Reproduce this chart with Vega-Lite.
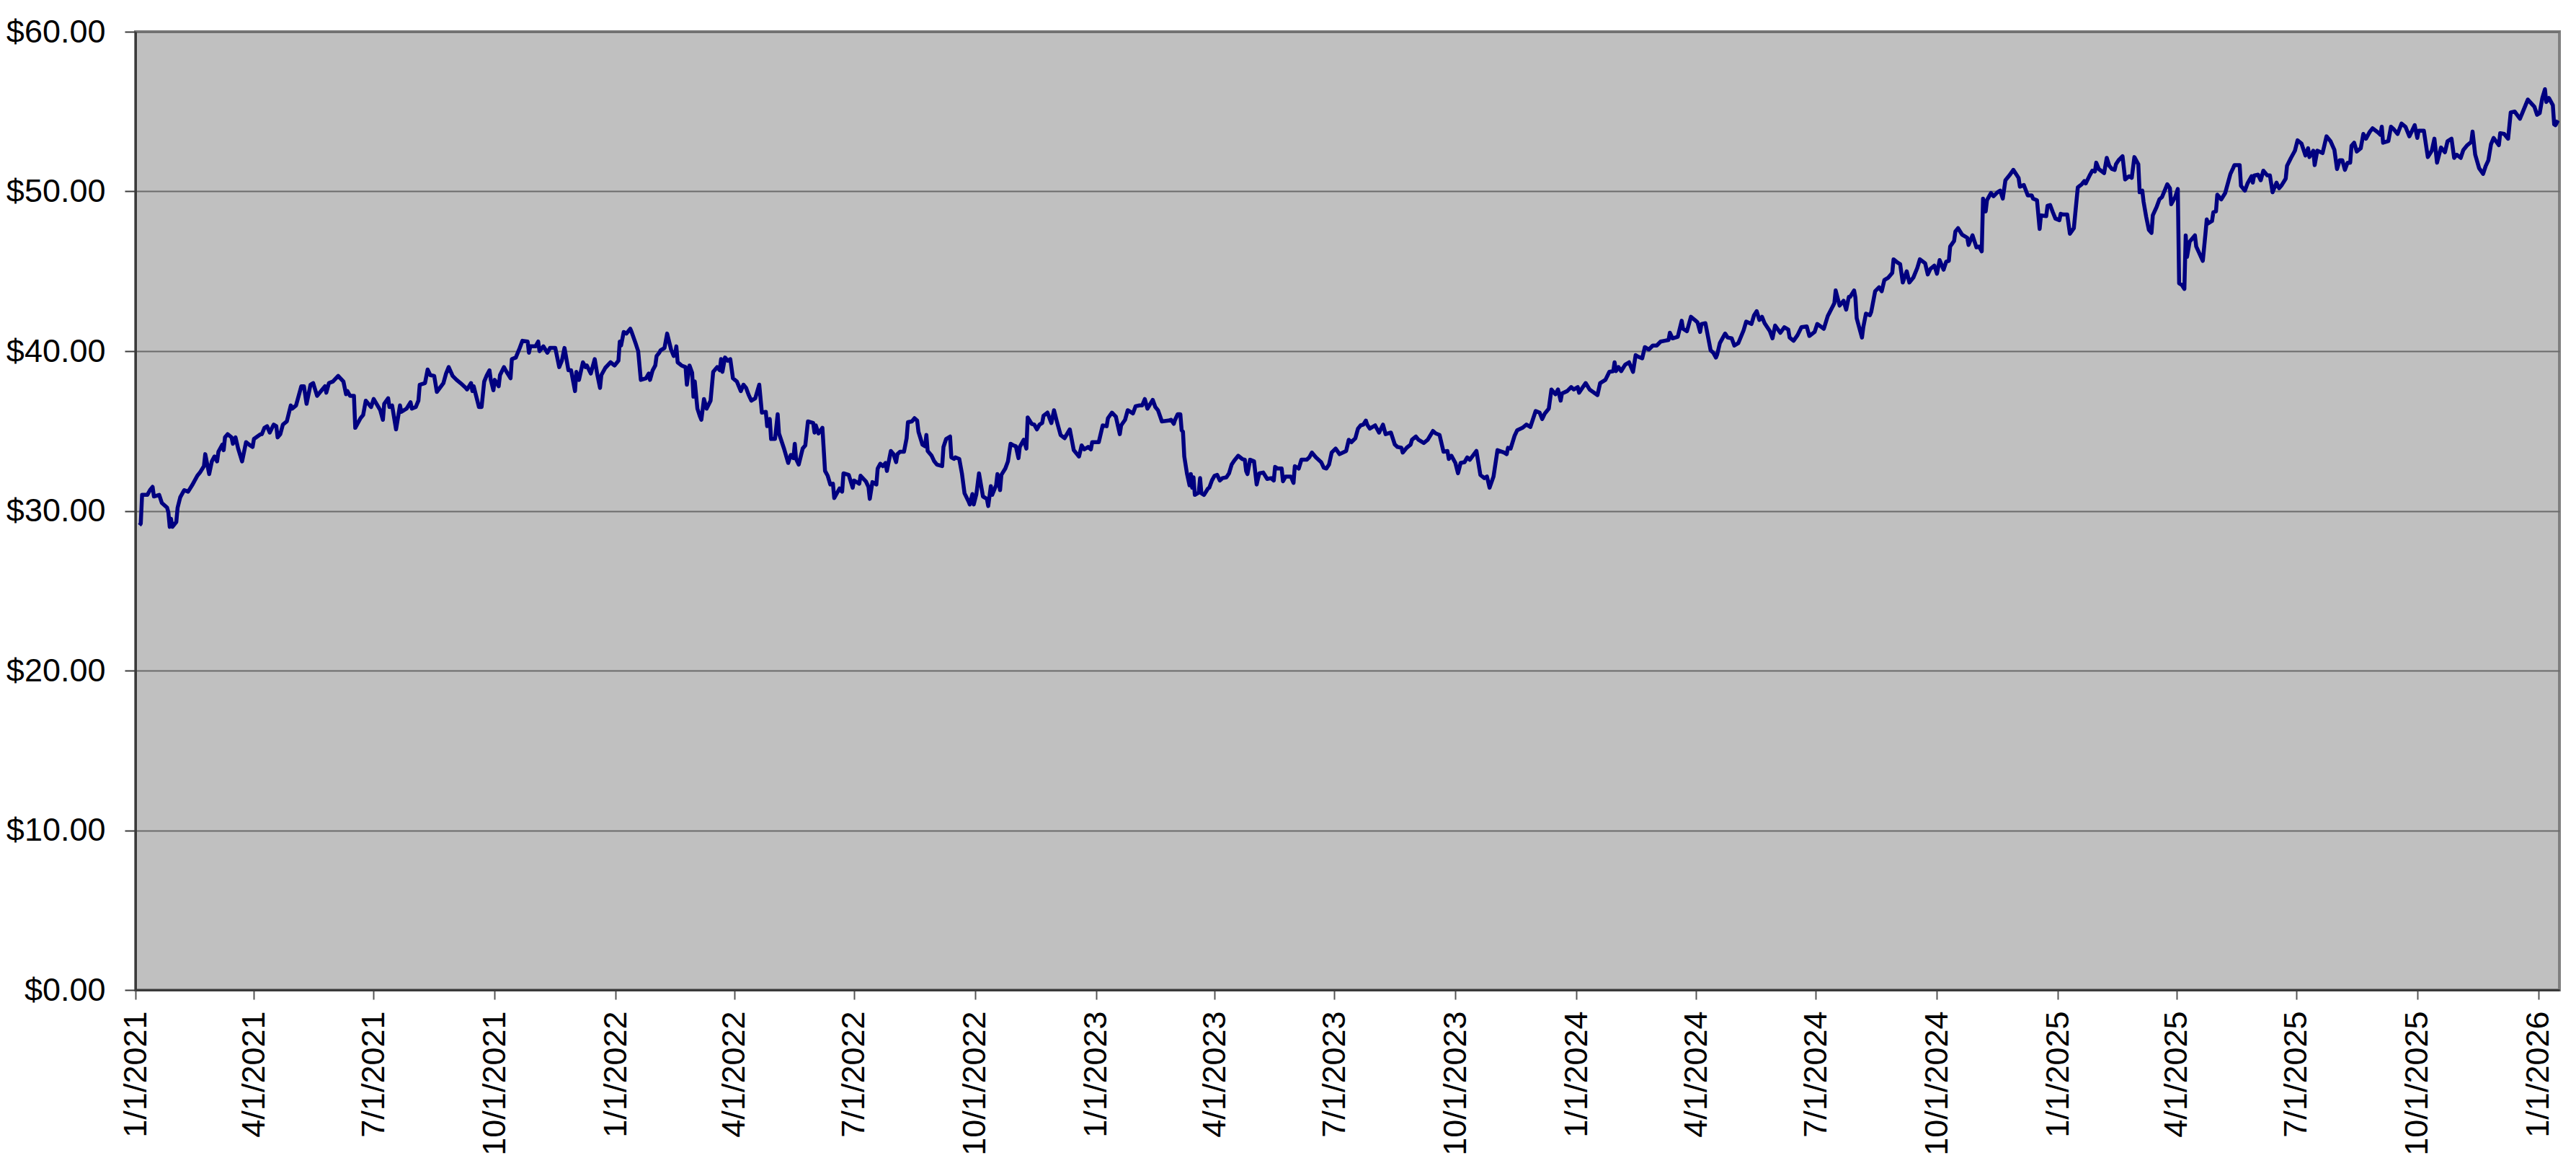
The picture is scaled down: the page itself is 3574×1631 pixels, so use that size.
{
  "$schema": "https://vega.github.io/schema/vega-lite/v6.json",
  "width": 3363,
  "height": 1329,
  "autosize": {"type": "none"},
  "padding": {"left": 188, "top": 44, "right": 23, "bottom": 258},
  "background": "#ffffff",
  "config": {
    "view": {"fill": "#C0C0C0", "stroke": "#808080", "strokeWidth": 4},
    "axis": {"labelFont": "Liberation Sans", "labelFontSize": 45, "labelColor": "#000000", "labelLimit": 0}
  },
  "data": {"values": [
    {"date":"2021-01-04","price":29.1},{"date":"2021-01-05","price":29.2},{"date":"2021-01-06","price":31.0},{"date":"2021-01-10","price":31.0},
    {"date":"2021-01-12","price":31.3},{"date":"2021-01-14","price":31.5},{"date":"2021-01-15","price":30.9},{"date":"2021-01-19","price":31.0},
    {"date":"2021-01-21","price":30.5},{"date":"2021-01-25","price":30.2},{"date":"2021-01-26","price":29.9},{"date":"2021-01-27","price":29.0},
    {"date":"2021-01-28","price":29.5},{"date":"2021-01-29","price":29.0},{"date":"2021-02-01","price":29.3},{"date":"2021-02-02","price":30.2},
    {"date":"2021-02-04","price":30.85},{"date":"2021-02-07","price":31.3},{"date":"2021-02-10","price":31.2},{"date":"2021-02-13","price":31.6},
    {"date":"2021-02-17","price":32.2},{"date":"2021-02-19","price":32.4},{"date":"2021-02-22","price":32.8},{"date":"2021-02-23","price":33.55},
    {"date":"2021-02-26","price":32.3},{"date":"2021-02-28","price":33.1},{"date":"2021-03-02","price":33.4},{"date":"2021-03-04","price":33.1},
    {"date":"2021-03-05","price":33.7},{"date":"2021-03-08","price":34.15},{"date":"2021-03-09","price":33.8},{"date":"2021-03-10","price":34.6},
    {"date":"2021-03-12","price":34.8},{"date":"2021-03-15","price":34.6},{"date":"2021-03-16","price":34.2},{"date":"2021-03-18","price":34.6},
    {"date":"2021-03-20","price":33.9},{"date":"2021-03-23","price":33.1},{"date":"2021-03-26","price":34.3},{"date":"2021-03-29","price":34.1},
    {"date":"2021-03-31","price":34.0},{"date":"2021-04-01","price":34.5},{"date":"2021-04-06","price":34.8},{"date":"2021-04-07","price":34.8},
    {"date":"2021-04-09","price":35.2},{"date":"2021-04-11","price":35.3},{"date":"2021-04-13","price":34.9},{"date":"2021-04-16","price":35.4},
    {"date":"2021-04-18","price":35.3},{"date":"2021-04-19","price":34.6},{"date":"2021-04-21","price":34.8},{"date":"2021-04-23","price":35.4},
    {"date":"2021-04-26","price":35.6},{"date":"2021-04-29","price":36.6},{"date":"2021-04-30","price":36.4},{"date":"2021-05-03","price":36.6},
    {"date":"2021-05-07","price":37.8},{"date":"2021-05-09","price":37.8},{"date":"2021-05-11","price":36.7},{"date":"2021-05-14","price":37.9},
    {"date":"2021-05-16","price":38.0},{"date":"2021-05-19","price":37.2},{"date":"2021-05-21","price":37.4},{"date":"2021-05-25","price":37.8},
    {"date":"2021-05-26","price":37.4},{"date":"2021-05-28","price":38.0},{"date":"2021-05-31","price":38.1},{"date":"2021-06-04","price":38.45},
    {"date":"2021-06-08","price":38.1},{"date":"2021-06-10","price":37.3},{"date":"2021-06-11","price":37.5},{"date":"2021-06-13","price":37.2},
    {"date":"2021-06-16","price":37.2},{"date":"2021-06-17","price":35.2},{"date":"2021-06-21","price":35.8},{"date":"2021-06-23","price":36.0},
    {"date":"2021-06-25","price":36.9},{"date":"2021-06-29","price":36.5},{"date":"2021-07-01","price":37.0},{"date":"2021-07-06","price":36.3},
    {"date":"2021-07-08","price":35.7},{"date":"2021-07-09","price":36.7},{"date":"2021-07-12","price":37.05},{"date":"2021-07-13","price":36.5},
    {"date":"2021-07-15","price":36.6},{"date":"2021-07-18","price":35.1},{"date":"2021-07-21","price":36.6},{"date":"2021-07-22","price":36.2},
    {"date":"2021-07-26","price":36.4},{"date":"2021-07-29","price":36.8},{"date":"2021-07-30","price":36.4},{"date":"2021-08-02","price":36.5},
    {"date":"2021-08-04","price":36.9},{"date":"2021-08-05","price":37.9},{"date":"2021-08-09","price":38.0},{"date":"2021-08-11","price":38.85},
    {"date":"2021-08-13","price":38.5},{"date":"2021-08-16","price":38.45},{"date":"2021-08-18","price":37.45},{"date":"2021-08-23","price":38.0},
    {"date":"2021-08-25","price":38.6},{"date":"2021-08-27","price":39.0},{"date":"2021-08-30","price":38.45},{"date":"2021-09-02","price":38.2},
    {"date":"2021-09-05","price":38.0},{"date":"2021-09-09","price":37.7},{"date":"2021-09-10","price":37.6},{"date":"2021-09-13","price":38.0},
    {"date":"2021-09-14","price":37.5},{"date":"2021-09-15","price":37.8},{"date":"2021-09-19","price":36.5},{"date":"2021-09-21","price":36.5},
    {"date":"2021-09-23","price":38.1},{"date":"2021-09-25","price":38.5},{"date":"2021-09-27","price":38.8},{"date":"2021-09-28","price":38.2},
    {"date":"2021-09-30","price":37.55},{"date":"2021-10-01","price":38.2},{"date":"2021-10-04","price":37.8},{"date":"2021-10-05","price":38.5},
    {"date":"2021-10-08","price":39.0},{"date":"2021-10-10","price":38.7},{"date":"2021-10-13","price":38.3},{"date":"2021-10-14","price":39.5},
    {"date":"2021-10-17","price":39.6},{"date":"2021-10-20","price":40.2},{"date":"2021-10-22","price":40.65},{"date":"2021-10-26","price":40.6},
    {"date":"2021-10-27","price":39.9},{"date":"2021-10-28","price":40.3},{"date":"2021-11-01","price":40.3},{"date":"2021-11-03","price":40.6},
    {"date":"2021-11-04","price":40.0},{"date":"2021-11-07","price":40.3},{"date":"2021-11-10","price":39.9},{"date":"2021-11-12","price":40.2},
    {"date":"2021-11-16","price":40.2},{"date":"2021-11-19","price":39.0},{"date":"2021-11-21","price":39.4},{"date":"2021-11-23","price":40.2},
    {"date":"2021-11-26","price":38.8},{"date":"2021-11-28","price":38.8},{"date":"2021-12-01","price":37.5},{"date":"2021-12-02","price":38.7},
    {"date":"2021-12-04","price":38.2},{"date":"2021-12-07","price":39.3},{"date":"2021-12-09","price":39.0},{"date":"2021-12-10","price":39.1},
    {"date":"2021-12-13","price":38.6},{"date":"2021-12-16","price":39.5},{"date":"2021-12-18","price":38.5},{"date":"2021-12-20","price":37.7},
    {"date":"2021-12-21","price":38.5},{"date":"2021-12-24","price":38.95},{"date":"2021-12-28","price":39.3},{"date":"2021-12-31","price":39.1},
    {"date":"2022-01-03","price":39.4},{"date":"2022-01-04","price":40.6},{"date":"2022-01-05","price":40.35},{"date":"2022-01-07","price":41.2},
    {"date":"2022-01-09","price":41.1},{"date":"2022-01-12","price":41.4},{"date":"2022-01-13","price":41.2},{"date":"2022-01-16","price":40.5},
    {"date":"2022-01-18","price":40.0},{"date":"2022-01-20","price":38.2},{"date":"2022-01-24","price":38.3},{"date":"2022-01-26","price":38.6},
    {"date":"2022-01-27","price":38.2},{"date":"2022-01-29","price":38.8},{"date":"2022-01-31","price":39.1},{"date":"2022-02-01","price":39.7},
    {"date":"2022-02-03","price":39.9},{"date":"2022-02-04","price":40.05},{"date":"2022-02-07","price":40.2},{"date":"2022-02-09","price":41.1},
    {"date":"2022-02-12","price":40.1},{"date":"2022-02-14","price":39.7},{"date":"2022-02-15","price":39.8},{"date":"2022-02-16","price":40.3},
    {"date":"2022-02-17","price":39.3},{"date":"2022-02-20","price":39.1},{"date":"2022-02-23","price":39.0},{"date":"2022-02-24","price":37.9},
    {"date":"2022-02-26","price":39.1},{"date":"2022-02-28","price":38.65},{"date":"2022-03-01","price":37.15},{"date":"2022-03-02","price":38.1},
    {"date":"2022-03-04","price":36.4},{"date":"2022-03-06","price":35.9},{"date":"2022-03-07","price":35.7},{"date":"2022-03-09","price":37.0},
    {"date":"2022-03-11","price":36.4},{"date":"2022-03-14","price":36.9},{"date":"2022-03-16","price":38.7},{"date":"2022-03-19","price":39.0},
    {"date":"2022-03-21","price":38.8},{"date":"2022-03-22","price":39.5},{"date":"2022-03-23","price":38.7},{"date":"2022-03-25","price":39.6},
    {"date":"2022-03-27","price":39.4},{"date":"2022-03-29","price":39.5},{"date":"2022-03-31","price":38.3},{"date":"2022-04-03","price":38.1},
    {"date":"2022-04-06","price":37.5},{"date":"2022-04-08","price":37.9},{"date":"2022-04-10","price":37.7},{"date":"2022-04-12","price":37.25},
    {"date":"2022-04-14","price":36.9},{"date":"2022-04-17","price":37.05},{"date":"2022-04-20","price":37.9},{"date":"2022-04-22","price":36.15},
    {"date":"2022-04-25","price":36.2},{"date":"2022-04-26","price":35.3},{"date":"2022-04-28","price":35.75},{"date":"2022-04-29","price":34.5},
    {"date":"2022-05-02","price":34.5},{"date":"2022-05-04","price":36.05},{"date":"2022-05-05","price":34.85},{"date":"2022-05-09","price":33.85},
    {"date":"2022-05-12","price":33.0},{"date":"2022-05-14","price":33.5},{"date":"2022-05-16","price":33.3},{"date":"2022-05-17","price":34.2},
    {"date":"2022-05-18","price":33.25},{"date":"2022-05-20","price":32.9},{"date":"2022-05-23","price":33.9},{"date":"2022-05-25","price":34.1},
    {"date":"2022-05-27","price":35.6},{"date":"2022-05-31","price":35.5},{"date":"2022-06-01","price":34.9},{"date":"2022-06-02","price":35.35},
    {"date":"2022-06-04","price":34.85},{"date":"2022-06-07","price":35.2},{"date":"2022-06-09","price":32.5},{"date":"2022-06-11","price":32.2},
    {"date":"2022-06-13","price":31.65},{"date":"2022-06-15","price":31.7},{"date":"2022-06-16","price":30.8},{"date":"2022-06-20","price":31.4},
    {"date":"2022-06-22","price":31.2},{"date":"2022-06-23","price":32.35},{"date":"2022-06-27","price":32.25},{"date":"2022-06-30","price":31.45},
    {"date":"2022-07-01","price":31.9},{"date":"2022-07-05","price":31.7},{"date":"2022-07-06","price":32.2},{"date":"2022-07-10","price":31.85},
    {"date":"2022-07-12","price":31.5},{"date":"2022-07-13","price":30.75},{"date":"2022-07-15","price":31.8},{"date":"2022-07-18","price":31.65},
    {"date":"2022-07-19","price":32.65},{"date":"2022-07-21","price":32.95},{"date":"2022-07-23","price":32.8},{"date":"2022-07-25","price":33.0},
    {"date":"2022-07-26","price":32.5},{"date":"2022-07-29","price":33.75},{"date":"2022-07-31","price":33.55},{"date":"2022-08-02","price":33.05},
    {"date":"2022-08-03","price":33.55},{"date":"2022-08-05","price":33.7},{"date":"2022-08-08","price":33.7},{"date":"2022-08-10","price":34.55},
    {"date":"2022-08-11","price":35.55},{"date":"2022-08-14","price":35.6},{"date":"2022-08-16","price":35.8},{"date":"2022-08-18","price":35.65},
    {"date":"2022-08-19","price":34.95},{"date":"2022-08-22","price":34.15},{"date":"2022-08-24","price":34.05},{"date":"2022-08-25","price":34.75},
    {"date":"2022-08-26","price":33.75},{"date":"2022-08-29","price":33.45},{"date":"2022-08-31","price":33.1},{"date":"2022-09-02","price":32.9},
    {"date":"2022-09-06","price":32.8},{"date":"2022-09-07","price":34.0},{"date":"2022-09-09","price":34.5},{"date":"2022-09-12","price":34.65},
    {"date":"2022-09-13","price":33.35},{"date":"2022-09-15","price":33.25},{"date":"2022-09-16","price":33.35},{"date":"2022-09-19","price":33.25},
    {"date":"2022-09-21","price":32.35},{"date":"2022-09-23","price":31.1},{"date":"2022-09-26","price":30.6},{"date":"2022-09-27","price":30.4},
    {"date":"2022-09-29","price":31.05},{"date":"2022-09-30","price":30.4},{"date":"2022-10-02","price":31.05},{"date":"2022-10-04","price":32.35},
    {"date":"2022-10-07","price":30.9},{"date":"2022-10-10","price":30.75},{"date":"2022-10-11","price":30.3},{"date":"2022-10-13","price":31.55},
    {"date":"2022-10-14","price":31.0},{"date":"2022-10-17","price":31.6},{"date":"2022-10-18","price":32.3},{"date":"2022-10-20","price":31.3},
    {"date":"2022-10-21","price":32.25},{"date":"2022-10-24","price":32.65},{"date":"2022-10-26","price":33.1},{"date":"2022-10-28","price":34.2},
    {"date":"2022-10-30","price":34.1},{"date":"2022-11-01","price":34.05},{"date":"2022-11-03","price":33.3},{"date":"2022-11-04","price":34.0},
    {"date":"2022-11-07","price":34.45},{"date":"2022-11-09","price":33.9},{"date":"2022-11-10","price":35.85},{"date":"2022-11-13","price":35.45},
    {"date":"2022-11-15","price":35.4},{"date":"2022-11-17","price":35.1},{"date":"2022-11-19","price":35.4},{"date":"2022-11-21","price":35.5},
    {"date":"2022-11-22","price":35.95},{"date":"2022-11-25","price":36.15},{"date":"2022-11-28","price":35.5},{"date":"2022-11-30","price":36.3},
    {"date":"2022-12-02","price":35.65},{"date":"2022-12-05","price":34.75},{"date":"2022-12-08","price":34.55},{"date":"2022-12-12","price":35.1},
    {"date":"2022-12-15","price":33.8},{"date":"2022-12-19","price":33.4},{"date":"2022-12-21","price":34.1},{"date":"2022-12-23","price":33.85},
    {"date":"2022-12-26","price":34.0},{"date":"2022-12-28","price":33.85},{"date":"2022-12-29","price":34.3},{"date":"2023-01-03","price":34.3},
    {"date":"2023-01-04","price":34.65},{"date":"2023-01-06","price":35.35},{"date":"2023-01-09","price":35.3},{"date":"2023-01-10","price":35.8},
    {"date":"2023-01-13","price":36.15},{"date":"2023-01-16","price":35.9},{"date":"2023-01-19","price":34.8},{"date":"2023-01-20","price":35.35},
    {"date":"2023-01-23","price":35.7},{"date":"2023-01-25","price":36.3},{"date":"2023-01-29","price":36.1},{"date":"2023-01-31","price":36.55},
    {"date":"2023-02-03","price":36.6},{"date":"2023-02-05","price":36.6},{"date":"2023-02-07","price":37.0},{"date":"2023-02-09","price":36.4},
    {"date":"2023-02-13","price":36.95},{"date":"2023-02-15","price":36.5},{"date":"2023-02-17","price":36.3},{"date":"2023-02-20","price":35.6},
    {"date":"2023-02-25","price":35.65},{"date":"2023-02-27","price":35.7},{"date":"2023-03-01","price":35.45},{"date":"2023-03-02","price":35.7},
    {"date":"2023-03-04","price":36.05},{"date":"2023-03-06","price":36.05},{"date":"2023-03-07","price":35.05},{"date":"2023-03-08","price":34.95},
    {"date":"2023-03-09","price":33.4},{"date":"2023-03-11","price":32.35},{"date":"2023-03-13","price":31.6},{"date":"2023-03-14","price":32.3},
    {"date":"2023-03-15","price":31.45},{"date":"2023-03-16","price":32.1},{"date":"2023-03-17","price":31.0},{"date":"2023-03-20","price":31.15},
    {"date":"2023-03-21","price":32.05},{"date":"2023-03-22","price":31.1},{"date":"2023-03-24","price":31.0},{"date":"2023-03-27","price":31.4},
    {"date":"2023-03-28","price":31.45},{"date":"2023-03-30","price":31.9},{"date":"2023-04-01","price":32.2},{"date":"2023-04-03","price":32.25},
    {"date":"2023-04-05","price":31.9},{"date":"2023-04-07","price":32.05},{"date":"2023-04-10","price":32.1},{"date":"2023-04-12","price":32.35},
    {"date":"2023-04-14","price":32.9},{"date":"2023-04-16","price":33.15},{"date":"2023-04-19","price":33.45},{"date":"2023-04-22","price":33.25},
    {"date":"2023-04-24","price":33.2},{"date":"2023-04-25","price":32.5},{"date":"2023-04-26","price":32.3},{"date":"2023-04-28","price":33.2},
    {"date":"2023-05-01","price":33.1},{"date":"2023-05-03","price":31.65},{"date":"2023-05-05","price":32.35},{"date":"2023-05-08","price":32.4},
    {"date":"2023-05-11","price":32.0},{"date":"2023-05-14","price":32.05},{"date":"2023-05-16","price":31.9},{"date":"2023-05-17","price":32.75},
    {"date":"2023-05-19","price":32.65},{"date":"2023-05-22","price":32.65},{"date":"2023-05-23","price":31.85},{"date":"2023-05-25","price":32.15},
    {"date":"2023-05-29","price":32.15},{"date":"2023-05-31","price":31.75},{"date":"2023-06-01","price":32.8},{"date":"2023-06-04","price":32.65},
    {"date":"2023-06-06","price":33.2},{"date":"2023-06-10","price":33.2},{"date":"2023-06-12","price":33.35},{"date":"2023-06-14","price":33.65},
    {"date":"2023-06-17","price":33.35},{"date":"2023-06-21","price":33.05},{"date":"2023-06-23","price":32.7},{"date":"2023-06-25","price":32.65},
    {"date":"2023-06-27","price":32.9},{"date":"2023-06-29","price":33.65},{"date":"2023-07-02","price":33.9},{"date":"2023-07-05","price":33.55},
    {"date":"2023-07-10","price":33.75},{"date":"2023-07-12","price":34.45},{"date":"2023-07-14","price":34.3},{"date":"2023-07-17","price":34.55},
    {"date":"2023-07-19","price":35.15},{"date":"2023-07-21","price":35.35},{"date":"2023-07-23","price":35.4},{"date":"2023-07-25","price":35.65},
    {"date":"2023-07-26","price":35.4},{"date":"2023-07-28","price":35.15},{"date":"2023-08-01","price":35.35},{"date":"2023-08-04","price":34.9},
    {"date":"2023-08-07","price":35.4},{"date":"2023-08-09","price":34.8},{"date":"2023-08-13","price":34.9},{"date":"2023-08-16","price":34.15},
    {"date":"2023-08-18","price":34.0},{"date":"2023-08-21","price":33.95},{"date":"2023-08-22","price":33.65},{"date":"2023-08-25","price":33.95},
    {"date":"2023-08-28","price":34.15},{"date":"2023-08-29","price":34.45},{"date":"2023-09-01","price":34.65},{"date":"2023-09-03","price":34.45},
    {"date":"2023-09-07","price":34.25},{"date":"2023-09-10","price":34.45},{"date":"2023-09-14","price":35.0},{"date":"2023-09-16","price":34.85},
    {"date":"2023-09-19","price":34.75},{"date":"2023-09-22","price":33.7},{"date":"2023-09-25","price":33.75},{"date":"2023-09-26","price":33.25},
    {"date":"2023-09-28","price":33.45},{"date":"2023-10-01","price":33.0},{"date":"2023-10-03","price":32.35},{"date":"2023-10-05","price":33.0},
    {"date":"2023-10-08","price":33.05},{"date":"2023-10-10","price":33.35},{"date":"2023-10-12","price":33.2},{"date":"2023-10-17","price":33.75},
    {"date":"2023-10-20","price":32.25},{"date":"2023-10-23","price":32.05},{"date":"2023-10-25","price":32.15},{"date":"2023-10-27","price":31.45},
    {"date":"2023-10-30","price":32.15},{"date":"2023-11-02","price":33.8},{"date":"2023-11-07","price":33.65},{"date":"2023-11-09","price":33.55},
    {"date":"2023-11-10","price":33.95},{"date":"2023-11-12","price":33.9},{"date":"2023-11-15","price":34.7},{"date":"2023-11-17","price":35.05},
    {"date":"2023-11-21","price":35.2},{"date":"2023-11-24","price":35.4},{"date":"2023-11-27","price":35.25},{"date":"2023-12-01","price":36.25},
    {"date":"2023-12-04","price":36.15},{"date":"2023-12-06","price":35.75},{"date":"2023-12-08","price":36.1},{"date":"2023-12-11","price":36.4},
    {"date":"2023-12-13","price":37.6},{"date":"2023-12-16","price":37.3},{"date":"2023-12-18","price":37.6},{"date":"2023-12-20","price":36.9},
    {"date":"2023-12-21","price":37.35},{"date":"2023-12-25","price":37.5},{"date":"2023-12-28","price":37.75},{"date":"2023-12-30","price":37.6},
    {"date":"2024-01-02","price":37.75},{"date":"2024-01-03","price":37.4},{"date":"2024-01-08","price":38.0},{"date":"2024-01-11","price":37.6},
    {"date":"2024-01-17","price":37.25},{"date":"2024-01-19","price":38.0},{"date":"2024-01-23","price":38.2},{"date":"2024-01-26","price":38.7},
    {"date":"2024-01-29","price":38.75},{"date":"2024-01-30","price":39.3},{"date":"2024-01-31","price":38.75},{"date":"2024-02-02","price":39.0},
    {"date":"2024-02-04","price":38.75},{"date":"2024-02-07","price":39.15},{"date":"2024-02-10","price":39.3},{"date":"2024-02-13","price":38.7},
    {"date":"2024-02-15","price":39.75},{"date":"2024-02-17","price":39.65},{"date":"2024-02-20","price":39.55},{"date":"2024-02-22","price":40.25},
    {"date":"2024-02-25","price":40.1},{"date":"2024-02-28","price":40.35},{"date":"2024-03-02","price":40.35},{"date":"2024-03-05","price":40.6},
    {"date":"2024-03-08","price":40.65},{"date":"2024-03-11","price":40.7},{"date":"2024-03-12","price":41.15},{"date":"2024-03-14","price":40.8},
    {"date":"2024-03-18","price":40.9},{"date":"2024-03-21","price":41.9},{"date":"2024-03-22","price":41.4},{"date":"2024-03-25","price":41.25},
    {"date":"2024-03-28","price":42.15},{"date":"2024-03-31","price":41.95},{"date":"2024-04-02","price":41.8},{"date":"2024-04-04","price":41.2},
    {"date":"2024-04-05","price":41.7},{"date":"2024-04-08","price":41.75},{"date":"2024-04-12","price":40.05},{"date":"2024-04-14","price":39.9},
    {"date":"2024-04-16","price":39.6},{"date":"2024-04-17","price":39.8},{"date":"2024-04-19","price":40.5},{"date":"2024-04-23","price":41.1},
    {"date":"2024-04-25","price":40.85},{"date":"2024-04-28","price":40.8},{"date":"2024-04-30","price":40.35},{"date":"2024-05-03","price":40.5},
    {"date":"2024-05-07","price":41.3},{"date":"2024-05-09","price":41.85},{"date":"2024-05-13","price":41.7},{"date":"2024-05-15","price":42.25},
    {"date":"2024-05-17","price":42.5},{"date":"2024-05-19","price":41.95},{"date":"2024-05-21","price":42.15},{"date":"2024-05-23","price":41.75},
    {"date":"2024-05-25","price":41.5},{"date":"2024-05-27","price":41.25},{"date":"2024-05-29","price":40.8},{"date":"2024-05-31","price":41.6},
    {"date":"2024-06-04","price":41.15},{"date":"2024-06-07","price":41.5},{"date":"2024-06-10","price":41.35},{"date":"2024-06-11","price":40.85},
    {"date":"2024-06-14","price":40.65},{"date":"2024-06-17","price":41.0},{"date":"2024-06-20","price":41.5},{"date":"2024-06-24","price":41.55},
    {"date":"2024-06-26","price":40.95},{"date":"2024-06-30","price":41.2},{"date":"2024-07-02","price":41.7},{"date":"2024-07-07","price":41.4},
    {"date":"2024-07-10","price":42.2},{"date":"2024-07-15","price":43.0},{"date":"2024-07-16","price":43.8},{"date":"2024-07-19","price":42.85},
    {"date":"2024-07-22","price":43.15},{"date":"2024-07-24","price":42.6},{"date":"2024-07-26","price":43.4},{"date":"2024-07-27","price":43.4},
    {"date":"2024-07-30","price":43.8},{"date":"2024-07-31","price":43.35},{"date":"2024-08-01","price":42.05},{"date":"2024-08-05","price":40.85},
    {"date":"2024-08-06","price":41.5},{"date":"2024-08-08","price":42.35},{"date":"2024-08-11","price":42.25},{"date":"2024-08-12","price":42.45},
    {"date":"2024-08-15","price":43.75},{"date":"2024-08-18","price":44.0},{"date":"2024-08-20","price":43.75},{"date":"2024-08-22","price":44.45},
    {"date":"2024-08-25","price":44.6},{"date":"2024-08-28","price":44.9},{"date":"2024-08-29","price":45.75},{"date":"2024-09-01","price":45.55},
    {"date":"2024-09-03","price":45.45},{"date":"2024-09-05","price":44.3},{"date":"2024-09-08","price":45.0},{"date":"2024-09-10","price":44.3},
    {"date":"2024-09-13","price":44.6},{"date":"2024-09-16","price":45.2},{"date":"2024-09-18","price":45.75},{"date":"2024-09-22","price":45.5},
    {"date":"2024-09-24","price":44.8},{"date":"2024-09-26","price":45.15},{"date":"2024-09-29","price":45.35},{"date":"2024-10-01","price":44.85},
    {"date":"2024-10-03","price":45.7},{"date":"2024-10-06","price":45.1},{"date":"2024-10-08","price":45.6},{"date":"2024-10-10","price":45.65},
    {"date":"2024-10-11","price":46.55},{"date":"2024-10-14","price":46.9},{"date":"2024-10-15","price":47.5},{"date":"2024-10-17","price":47.7},
    {"date":"2024-10-20","price":47.3},{"date":"2024-10-24","price":47.1},{"date":"2024-10-25","price":46.65},{"date":"2024-10-28","price":47.25},
    {"date":"2024-10-31","price":46.5},{"date":"2024-11-02","price":46.55},{"date":"2024-11-04","price":46.25},{"date":"2024-11-05","price":49.55},
    {"date":"2024-11-07","price":48.75},{"date":"2024-11-08","price":49.45},{"date":"2024-11-11","price":49.9},{"date":"2024-11-13","price":49.7},
    {"date":"2024-11-16","price":49.95},{"date":"2024-11-18","price":50.05},{"date":"2024-11-20","price":49.55},{"date":"2024-11-22","price":50.7},
    {"date":"2024-11-25","price":51.0},{"date":"2024-11-28","price":51.35},{"date":"2024-12-02","price":50.85},{"date":"2024-12-03","price":50.3},
    {"date":"2024-12-06","price":50.4},{"date":"2024-12-09","price":49.75},{"date":"2024-12-12","price":49.75},{"date":"2024-12-13","price":49.55},
    {"date":"2024-12-16","price":49.45},{"date":"2024-12-18","price":47.65},{"date":"2024-12-19","price":48.5},{"date":"2024-12-23","price":48.45},
    {"date":"2024-12-24","price":49.1},{"date":"2024-12-26","price":49.15},{"date":"2024-12-28","price":48.7},{"date":"2024-12-30","price":48.3},
    {"date":"2025-01-02","price":48.2},{"date":"2025-01-03","price":48.6},{"date":"2025-01-05","price":48.55},{"date":"2025-01-08","price":48.55},
    {"date":"2025-01-10","price":47.35},{"date":"2025-01-13","price":47.7},{"date":"2025-01-14","price":48.55},{"date":"2025-01-16","price":50.25},
    {"date":"2025-01-19","price":50.45},{"date":"2025-01-21","price":50.65},{"date":"2025-01-22","price":50.5},{"date":"2025-01-25","price":51.0},
    {"date":"2025-01-27","price":51.3},{"date":"2025-01-29","price":51.25},{"date":"2025-01-30","price":51.8},{"date":"2025-02-01","price":51.4},
    {"date":"2025-02-05","price":51.15},{"date":"2025-02-07","price":52.1},{"date":"2025-02-09","price":51.6},{"date":"2025-02-11","price":51.4},
    {"date":"2025-02-13","price":51.35},{"date":"2025-02-14","price":51.7},{"date":"2025-02-16","price":51.95},{"date":"2025-02-19","price":52.2},
    {"date":"2025-02-21","price":50.75},{"date":"2025-02-24","price":50.95},{"date":"2025-02-26","price":50.85},{"date":"2025-02-28","price":52.15},
    {"date":"2025-03-03","price":51.7},{"date":"2025-03-04","price":49.95},{"date":"2025-03-06","price":50.05},{"date":"2025-03-07","price":49.35},
    {"date":"2025-03-09","price":48.4},{"date":"2025-03-11","price":47.6},{"date":"2025-03-13","price":47.4},{"date":"2025-03-14","price":48.5},
    {"date":"2025-03-17","price":49.05},{"date":"2025-03-19","price":49.5},{"date":"2025-03-21","price":49.65},{"date":"2025-03-25","price":50.45},
    {"date":"2025-03-27","price":50.2},{"date":"2025-03-28","price":49.2},{"date":"2025-03-31","price":49.65},{"date":"2025-04-02","price":50.15},
    {"date":"2025-04-03","price":44.25},{"date":"2025-04-05","price":44.15},{"date":"2025-04-07","price":43.9},{"date":"2025-04-08","price":47.25},
    {"date":"2025-04-09","price":45.9},{"date":"2025-04-11","price":46.85},{"date":"2025-04-15","price":47.25},{"date":"2025-04-16","price":46.55},
    {"date":"2025-04-21","price":45.65},{"date":"2025-04-23","price":47.35},{"date":"2025-04-24","price":48.25},{"date":"2025-04-25","price":48.0},
    {"date":"2025-04-28","price":48.15},{"date":"2025-04-29","price":48.7},{"date":"2025-05-01","price":48.75},{"date":"2025-05-02","price":49.8},
    {"date":"2025-05-05","price":49.5},{"date":"2025-05-08","price":49.9},{"date":"2025-05-10","price":50.5},{"date":"2025-05-12","price":51.1},
    {"date":"2025-05-14","price":51.45},{"date":"2025-05-15","price":51.65},{"date":"2025-05-19","price":51.65},{"date":"2025-05-20","price":50.35},
    {"date":"2025-05-23","price":50.05},{"date":"2025-05-25","price":50.5},{"date":"2025-05-28","price":50.95},{"date":"2025-05-29","price":50.55},
    {"date":"2025-05-30","price":51.0},{"date":"2025-06-02","price":51.05},{"date":"2025-06-04","price":50.7},{"date":"2025-06-06","price":51.3},
    {"date":"2025-06-09","price":51.0},{"date":"2025-06-11","price":51.0},{"date":"2025-06-13","price":49.95},{"date":"2025-06-16","price":50.55},
    {"date":"2025-06-18","price":50.2},{"date":"2025-06-20","price":50.4},{"date":"2025-06-23","price":50.8},{"date":"2025-06-24","price":51.6},
    {"date":"2025-06-27","price":52.1},{"date":"2025-06-30","price":52.55},{"date":"2025-07-02","price":53.2},{"date":"2025-07-05","price":53.0},
    {"date":"2025-07-08","price":52.25},{"date":"2025-07-10","price":52.7},{"date":"2025-07-11","price":52.15},{"date":"2025-07-14","price":52.55},
    {"date":"2025-07-15","price":51.65},{"date":"2025-07-17","price":52.55},{"date":"2025-07-21","price":52.4},{"date":"2025-07-24","price":53.45},
    {"date":"2025-07-27","price":53.15},{"date":"2025-07-30","price":52.6},{"date":"2025-08-01","price":51.4},{"date":"2025-08-03","price":51.95},
    {"date":"2025-08-05","price":51.95},{"date":"2025-08-07","price":51.35},{"date":"2025-08-09","price":51.8},{"date":"2025-08-11","price":51.8},
    {"date":"2025-08-12","price":52.85},{"date":"2025-08-14","price":53.05},{"date":"2025-08-16","price":52.5},{"date":"2025-08-19","price":52.7},
    {"date":"2025-08-21","price":53.6},{"date":"2025-08-23","price":53.3},{"date":"2025-08-26","price":53.75},{"date":"2025-08-28","price":53.95},
    {"date":"2025-09-01","price":53.7},{"date":"2025-09-03","price":53.55},{"date":"2025-09-04","price":54.05},{"date":"2025-09-05","price":53.05},
    {"date":"2025-09-09","price":53.15},{"date":"2025-09-11","price":54.05},{"date":"2025-09-13","price":53.9},{"date":"2025-09-16","price":53.6},
    {"date":"2025-09-19","price":54.25},{"date":"2025-09-22","price":54.05},{"date":"2025-09-25","price":53.45},{"date":"2025-09-29","price":54.15},
    {"date":"2025-10-01","price":53.35},{"date":"2025-10-02","price":53.8},{"date":"2025-10-06","price":53.8},{"date":"2025-10-09","price":52.15},
    {"date":"2025-10-12","price":52.55},{"date":"2025-10-14","price":53.3},{"date":"2025-10-16","price":51.8},{"date":"2025-10-19","price":52.75},
    {"date":"2025-10-22","price":52.45},{"date":"2025-10-24","price":53.15},{"date":"2025-10-27","price":53.3},{"date":"2025-10-29","price":52.1},
    {"date":"2025-10-31","price":52.3},{"date":"2025-11-03","price":52.1},{"date":"2025-11-05","price":52.6},{"date":"2025-11-08","price":52.9},
    {"date":"2025-11-11","price":53.1},{"date":"2025-11-12","price":53.75},{"date":"2025-11-14","price":52.3},{"date":"2025-11-17","price":51.45},
    {"date":"2025-11-20","price":51.1},{"date":"2025-11-22","price":51.6},{"date":"2025-11-24","price":51.95},{"date":"2025-11-26","price":52.95},
    {"date":"2025-11-28","price":53.35},{"date":"2025-12-02","price":52.9},{"date":"2025-12-03","price":53.65},{"date":"2025-12-06","price":53.6},
    {"date":"2025-12-09","price":53.3},{"date":"2025-12-11","price":54.95},{"date":"2025-12-14","price":55.0},{"date":"2025-12-18","price":54.55},
    {"date":"2025-12-20","price":54.95},{"date":"2025-12-24","price":55.75},{"date":"2025-12-29","price":55.3},{"date":"2025-12-31","price":54.8},
    {"date":"2026-01-02","price":54.9},{"date":"2026-01-04","price":55.85},{"date":"2026-01-06","price":56.4},{"date":"2026-01-07","price":55.6},
    {"date":"2026-01-09","price":55.85},{"date":"2026-01-12","price":55.4},{"date":"2026-01-13","price":54.2},{"date":"2026-01-14","price":54.15},
    {"date":"2026-01-16","price":54.45}
  ]},
  "mark": {"type": "line", "color": "#000080", "strokeWidth": 5.5, "strokeJoin": "round", "clip": true},
  "encoding": {
    "x": {
      "field": "date",
      "type": "temporal",
      "title": null,
      "scale": {
        "type": "utc",
        "domain": [
          {"year": 2021, "month": 1, "date": 1, "utc": true},
          {"year": 2026, "month": 1, "date": 17, "utc": true}
        ]
      },
      "axis": {
        "values": [
          {"year": 2021, "month": 1, "date": 1, "utc": true},
          {"year": 2021, "month": 4, "date": 1, "utc": true},
          {"year": 2021, "month": 7, "date": 1, "utc": true},
          {"year": 2021, "month": 10, "date": 1, "utc": true},
          {"year": 2022, "month": 1, "date": 1, "utc": true},
          {"year": 2022, "month": 4, "date": 1, "utc": true},
          {"year": 2022, "month": 7, "date": 1, "utc": true},
          {"year": 2022, "month": 10, "date": 1, "utc": true},
          {"year": 2023, "month": 1, "date": 1, "utc": true},
          {"year": 2023, "month": 4, "date": 1, "utc": true},
          {"year": 2023, "month": 7, "date": 1, "utc": true},
          {"year": 2023, "month": 10, "date": 1, "utc": true},
          {"year": 2024, "month": 1, "date": 1, "utc": true},
          {"year": 2024, "month": 4, "date": 1, "utc": true},
          {"year": 2024, "month": 7, "date": 1, "utc": true},
          {"year": 2024, "month": 10, "date": 1, "utc": true},
          {"year": 2025, "month": 1, "date": 1, "utc": true},
          {"year": 2025, "month": 4, "date": 1, "utc": true},
          {"year": 2025, "month": 7, "date": 1, "utc": true},
          {"year": 2025, "month": 10, "date": 1, "utc": true},
          {"year": 2026, "month": 1, "date": 1, "utc": true}
        ],
        "labelExpr": "utcFormat(datum.value, '%-m/%-d/%Y')",
        "labelAngle": 270,
        "labelAlign": "right",
        "labelBaseline": "middle",
        "labelPadding": 16,
        "labelOverlap": false,
        "labelFlush": false,
        "labelBound": false,
        "labelLimit": 0,
        "grid": false,
        "tickSize": 13,
        "tickWidth": 2,
        "tickColor": "#555555",
        "domainColor": "#3a3a3a",
        "domainWidth": 3
      }
    },
    "y": {
      "field": "price",
      "type": "quantitative",
      "title": null,
      "scale": {"domain": [0, 60], "nice": false, "zero": true},
      "axis": {
        "values": [0, 10, 20, 30, 40, 50, 60],
        "format": "$,.2f",
        "grid": true,
        "gridColor": "#6b6b6b",
        "gridWidth": 2,
        "tickSize": 15,
        "tickWidth": 2,
        "tickColor": "#3a3a3a",
        "labelPadding": 27,
        "labelBound": false,
        "labelFlush": false,
        "labelLimit": 0,
        "domainColor": "#3a3a3a",
        "domainWidth": 3
      }
    }
  }
}
